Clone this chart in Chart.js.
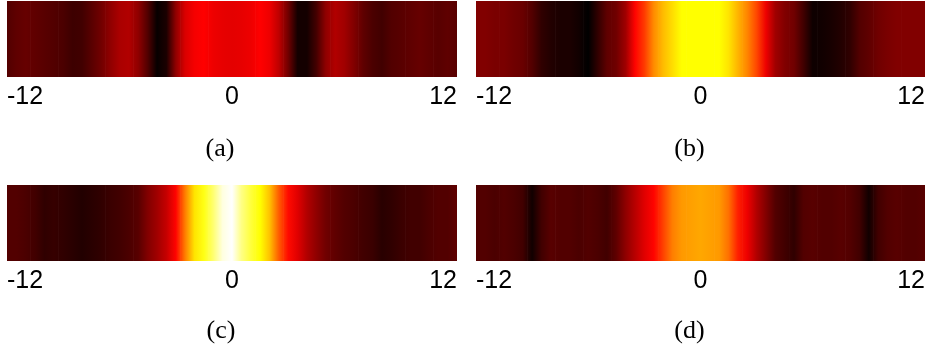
<!DOCTYPE html>
<html>
<head>
<meta charset="utf-8">
<script src="https://cdn.jsdelivr.net/npm/chart.js@4.4.1/dist/chart.umd.min.js"></script>
<style>
  body { margin: 0; background: #fff; }
  #wrap { position: relative; width: 928px; height: 348px; }
  canvas { position: absolute; }
</style>
</head>
<body>
<div id="wrap">
  <canvas id="stripA" width="464" height="164" style="left:0;top:0"></canvas>
  <canvas id="stripB" width="464" height="164" style="left:464px;top:0"></canvas>
  <canvas id="stripC" width="464" height="164" style="left:0;top:184px"></canvas>
  <canvas id="stripD" width="464" height="164" style="left:464px;top:184px"></canvas>
</div>
<script>
// sample positions along the strip
const positions = [-12, -11.5, -11, -10.5, -10, -9.5, -9, -8.5, -8, -7.5, -7, -6.5, -6, -5.5, -5, -4.5, -4, -3.5, -3, -2.5, -2, -1.5, -1, -0.5,
  0, 0.5, 1, 1.5, 2, 2.5, 3, 3.5, 4, 4.5, 5, 5.5, 6, 6.5, 7, 7.5, 8, 8.5, 9, 9.5, 10, 10.5, 11, 11.5, 12];

// intensity on the colormap scale (0 = black, 1 = white)
const intensityA = [0.12, 0.14, 0.15, 0.14, 0.13, 0.12, 0.11, 0.09, 0.095, 0.13, 0.165, 0.21, 0.25, 0.26, 0.21, 0.12, 0.01, 0.04, 0.21, 0.32, 0.36, 0.375, 0.35, 0.34,
  0.335, 0.34, 0.35, 0.375, 0.35, 0.28, 0.165, 0.03, 0.03, 0.1, 0.21, 0.26, 0.235, 0.19, 0.14, 0.11, 0.095, 0.12, 0.13, 0.14, 0.15, 0.14, 0.13, 0.14, 0.13];
const intensityB = [0.19, 0.19, 0.18, 0.18, 0.165, 0.155, 0.12, 0.07, 0.05, 0.04, 0.04, 0.025, 0.0, 0.07, 0.14, 0.165, 0.235, 0.38, 0.46, 0.58, 0.65, 0.7, 0.75, 0.75,
  0.75, 0.75, 0.75, 0.71, 0.64, 0.57, 0.48, 0.35, 0.235, 0.19, 0.165, 0.095, 0.02, 0.025, 0.035, 0.05, 0.07, 0.12, 0.14, 0.165, 0.18, 0.19, 0.19, 0.19, 0.19];
const intensityC = [0.12, 0.12, 0.11, 0.095, 0.07, 0.08, 0.07, 0.06, 0.05, 0.06, 0.07, 0.085, 0.095, 0.11, 0.13, 0.19, 0.235, 0.29, 0.38, 0.56, 0.71, 0.77, 0.86, 0.97,
  1.0, 0.88, 0.81, 0.75, 0.66, 0.51, 0.39, 0.33, 0.26, 0.21, 0.165, 0.14, 0.12, 0.11, 0.095, 0.085, 0.06, 0.07, 0.085, 0.095, 0.095, 0.11, 0.12, 0.12, 0.14];
const intensityD = [0.12, 0.12, 0.11, 0.12, 0.11, 0.095, 0.025, 0.095, 0.13, 0.12, 0.12, 0.11, 0.12, 0.11, 0.095, 0.14, 0.21, 0.27, 0.33, 0.38, 0.47, 0.56, 0.6, 0.61,
  0.62, 0.61, 0.6, 0.54, 0.42, 0.35, 0.26, 0.19, 0.12, 0.095, 0.07, 0.12, 0.13, 0.12, 0.12, 0.13, 0.12, 0.095, 0.025, 0.095, 0.12, 0.13, 0.12, 0.12, 0.13];

const tickValues = [-12, 0, 12];
const captions = ['(a)', '(b)', '(c)', '(d)'];

// matlab style "hot" colormap
const hot = (v) => {
  const c = (t) => Math.max(0, Math.min(1, t));
  const r = c(v / 0.375), g = c((v - 0.375) / 0.375), b = c((v - 0.75) / 0.25);
  return `rgb(${Math.round(r * 255)},${Math.round(g * 255)},${Math.round(b * 255)})`;
};

// subfigure label under each strip
const captionPlugin = {
  id: 'caption',
  afterDraw(chart, args, opts) {
    const {ctx, chartArea} = chart;
    ctx.save();
    ctx.font = '26px "Liberation Serif", "Times New Roman", serif';
    ctx.fillStyle = '#000';
    ctx.textAlign = 'center';
    ctx.textBaseline = 'alphabetic';
    ctx.fillText(opts.text, (chartArea.left + chartArea.right) / 2 + opts.dx, chartArea.bottom + opts.dy);
    ctx.restore();
  }
};

const drawStrip = (id, values, caption, pad, capDx, capDy) => {
  const first = positions[0], last = positions[positions.length - 1];
  let grad = null, gradKey = '';

  // one gradient across the strip so neighbouring samples blend
  const fill = (c) => {
    const chart = c.chart;
    const xScale = chart.scales.x;
    if (!chart.chartArea || !xScale) return hot(values[c.dataIndex]);
    const x0 = xScale.getPixelForValue(first);
    const x1 = xScale.getPixelForValue(last);
    const key = x0 + ':' + x1;
    if (grad && key === gradKey) return grad;
    grad = chart.ctx.createLinearGradient(x0, 0, x1, 0);
    positions.forEach((p, i) => grad.addColorStop((p - first) / (last - first), hot(values[i])));
    gradKey = key;
    return grad;
  };

  return new Chart(document.getElementById(id), {
    type: 'bar',
    data: {
      datasets: [{
        data: positions.map((p) => ({x: p, y: 1})),
        backgroundColor: fill,
        borderWidth: 0,
        barPercentage: 1,
        categoryPercentage: 1
      }]
    },
    options: {
      responsive: false,
      animation: false,
      events: [],
      layout: { padding: pad },
      plugins: {
        legend: { display: false },
        tooltip: { enabled: false },
        caption: { text: caption, dx: capDx, dy: capDy }
      },
      scales: {
        x: {
          type: 'linear',
          min: -12,
          max: 12,
          offset: false,
          grid: { display: false },
          border: { display: false },
          afterBuildTicks: (s) => { s.ticks = tickValues.map((v) => ({value: v})); },
          afterFit: (s) => { s.height = 30; },
          ticks: {
            align: 'inner',
            padding: -3,
            maxRotation: 0,
            autoSkip: false,
            color: '#000',
            font: { family: '"Liberation Sans", Arial, sans-serif', size: 25 }
          }
        },
        y: { display: false, min: 0, max: 1 }
      }
    },
    plugins: [captionPlugin]
  });
};

drawStrip('stripA', intensityA, captions[0], {left: 7, right: 7, top: 1, bottom: 57}, -12, 79);
drawStrip('stripB', intensityB, captions[1], {left: 12, right: 3, top: 1, bottom: 57}, -11, 79);
drawStrip('stripC', intensityC, captions[2], {left: 7, right: 7, top: 1, bottom: 57}, -11, 77);
drawStrip('stripD', intensityD, captions[3], {left: 12, right: 3, top: 1, bottom: 57}, -11, 77);
</script>
</body>
</html>
